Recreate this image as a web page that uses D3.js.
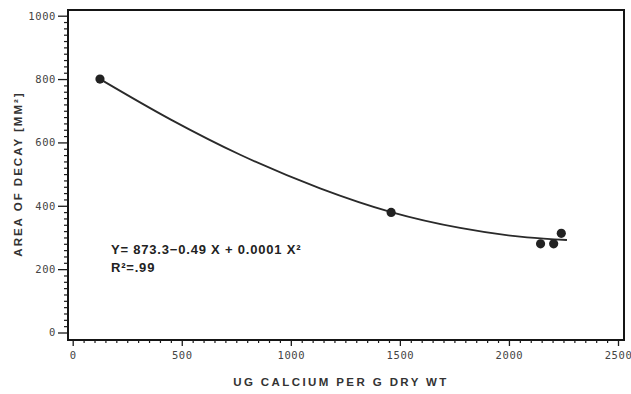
<!DOCTYPE html>
<html>
<head>
<meta charset="utf-8">
<script src="https://cdn.jsdelivr.net/npm/d3@7"></script>
<style>
  html, body { margin: 0; padding: 0; background: #fff; }
  svg { display: block; }
  .tick text { font-family: "DejaVu Sans Mono", monospace; font-size: 10.5px; fill: #444; letter-spacing: 0.6px; }
</style>
</head>
<body>
<svg id="chart" width="631" height="394"></svg>
<script>
// ---- data ----
const calcium = [125, 1460, 2145, 2205, 2240];          // ug calcium per g dry wt
const decayArea = [800, 379, 280, 280, 313];            // area of decay (mm^2)
const fitCalcium = [125, 450, 768, 1134, 1460, 1776, 2083, 2266]; // fitted curve as drawn
const fitArea = [800, 672, 561, 455, 380, 330, 300, 292];
const xTickValues = [0, 500, 1000, 1500, 2000, 2500];
const yTickValues = [0, 200, 400, 600, 800, 1000];
const xTitle = "UG CALCIUM PER G DRY WT";
const yTitle = "AREA OF DECAY [MM²]";
const eqLine1 = "Y= 873.3\u22120.49 X + 0.0001 X²";
const eqLine2 = "R²=.99";

const svg = d3.select("#chart");
const ink = "#1a1a1a";

const x = d3.scaleLinear().domain([0, 2500]).range([72.7, 618]);
const y = d3.scaleLinear().domain([0, 1000]).range([332.5, 15.7]);

const frameL = 68, frameR = 624, frameT = 10, frameB = 340;

// plot frame
svg.append("rect")
  .attr("class", "frame")
  .attr("x", frameL).attr("y", frameT)
  .attr("width", frameR - frameL).attr("height", frameB - frameT)
  .style("fill", "none")
  .style("stroke", "#151515")
  .style("stroke-width", "2px");

// y axis: minor ticks
svg.append("g").attr("transform", `translate(${frameL},0)`)
  .call(d3.axisLeft(y).tickValues(d3.range(0, 1001, 20).filter(v => v % 200 !== 0)).tickSize(4).tickFormat(""))
  .call(g => g.select(".domain").remove())
  .call(g => g.selectAll("line").attr("stroke", ink).attr("stroke-width", 1.2));
// y axis: major ticks
svg.append("g").attr("transform", `translate(${frameL},0)`)
  .call(d3.axisLeft(y).tickValues(yTickValues).tickSize(10).tickPadding(2).tickFormat(d3.format("d")))
  .call(g => g.select(".domain").remove())
  .call(g => g.selectAll("line").attr("stroke", ink).attr("stroke-width", 1.3));

// x axis: minor ticks
svg.append("g").attr("transform", `translate(0,${frameB})`)
  .call(d3.axisBottom(x).tickValues(d3.range(0, 2501, 50).filter(v => v % 500 !== 0)).tickSize(3).tickFormat(""))
  .call(g => g.select(".domain").remove())
  .call(g => g.selectAll("line").attr("stroke", ink).attr("stroke-width", 1.2));
// x axis: major ticks
svg.append("g").attr("transform", `translate(0,${frameB})`)
  .call(d3.axisBottom(x).tickValues(xTickValues).tickSize(6).tickPadding(6).tickFormat(d3.format("d")))
  .call(g => g.select(".domain").remove())
  .call(g => g.selectAll("line").attr("stroke", ink).attr("stroke-width", 1.3));

// fitted curve
const fitData = fitCalcium.map((c, i) => [c, fitArea[i]]);
svg.append("path")
  .datum(fitData)
  .attr("fill", "none")
  .attr("stroke", "#2a2a2a")
  .attr("stroke-width", 1.8)
  .attr("d", d3.line().x(d => x(d[0])).y(d => y(d[1])).curve(d3.curveMonotoneX));

// data points
svg.append("g").selectAll("circle")
  .data(calcium.map((c, i) => [c, decayArea[i]]))
  .join("circle")
  .attr("cx", d => x(d[0]))
  .attr("cy", d => y(d[1]))
  .attr("r", 4.6)
  .attr("fill", "#222");

// equation
svg.append("text")
  .attr("x", 111).attr("y", 254)
  .attr("font-family", "'Liberation Sans', Arial, sans-serif")
  .attr("font-weight", "bold").attr("font-size", 13).attr("letter-spacing", 0.8).attr("fill", "#222")
  .text(eqLine1);
svg.append("text")
  .attr("x", 111).attr("y", 272)
  .attr("font-family", "'Liberation Sans', Arial, sans-serif")
  .attr("font-weight", "bold").attr("font-size", 13).attr("letter-spacing", 0.8).attr("fill", "#222")
  .text(eqLine2);

// axis titles
svg.append("text")
  .attr("x", 341).attr("y", 386)
  .attr("text-anchor", "middle")
  .attr("font-family", "'Liberation Sans', Arial, sans-serif")
  .attr("font-weight", "bold").attr("font-size", 11.5).attr("letter-spacing", 2.4)
  .attr("fill", "#333")
  .text(xTitle);

svg.append("text")
  .attr("transform", "translate(22,174) rotate(-90)")
  .attr("text-anchor", "middle")
  .attr("font-family", "'Liberation Sans', Arial, sans-serif")
  .attr("font-weight", "bold").attr("font-size", 11.5).attr("letter-spacing", 2)
  .attr("fill", "#333")
  .text(yTitle);
</script>
</body>
</html>
